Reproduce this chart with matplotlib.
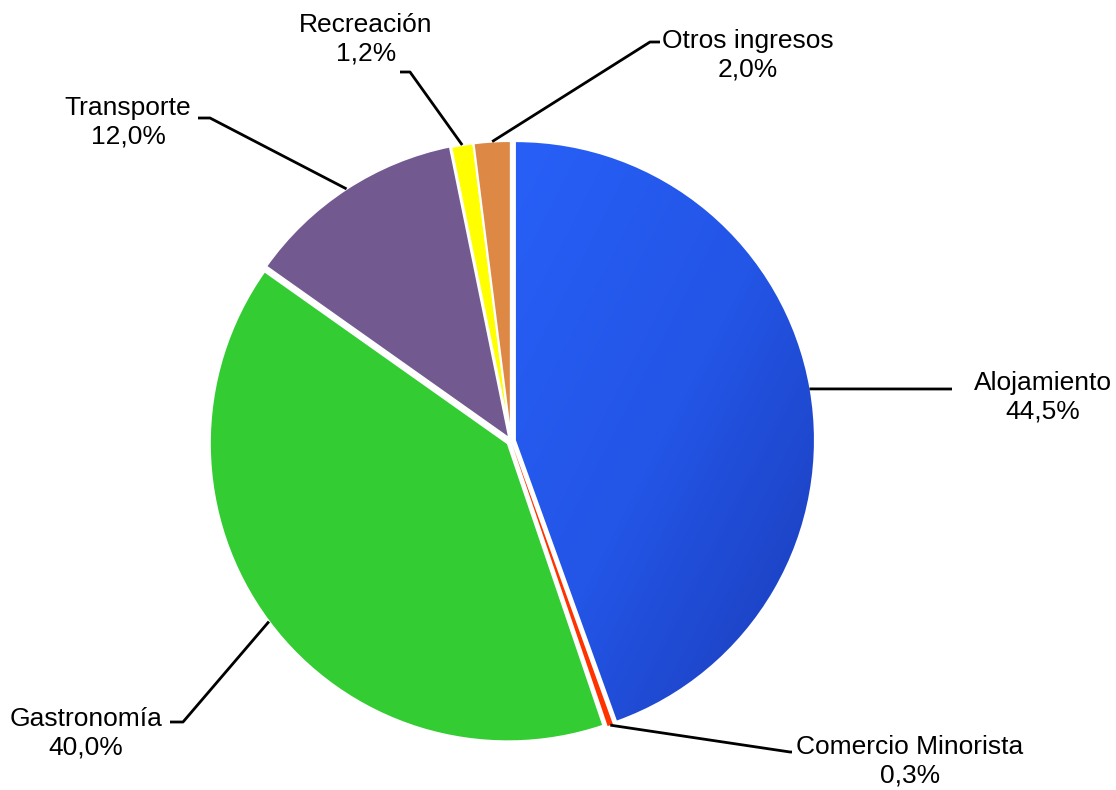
import numpy as np
import matplotlib
matplotlib.use("Agg")
import matplotlib.pyplot as plt
from matplotlib.colors import LinearSegmentedColormap

plt.rcParams['font.family'] = ['Liberation Sans', 'DejaVu Sans']

categorias = ['Alojamiento', 'Comercio Minorista', 'Gastronomía', 'Transporte', 'Recreación', 'Otros ingresos']
porcentajes = [44.5, 0.3, 40.0, 12.0, 1.2, 2.0]
colores = ['#2860F5', '#FF3300', '#33CC33', '#725A91', '#FFFF00', '#DD8844']

W, H = 1116, 790
fig = plt.figure(figsize=(W / 100, H / 100), dpi=100)
ax = fig.add_axes([0, 0, 1, 1])

cx, cy, r = 511, H - 441, 298
# explode is in data units (pixels here)
wedges, _ = ax.pie(porcentajes, colors=colores, startangle=90, counterclock=False,
                   center=(cx, cy), radius=r, explode=[5, 3, 4, 3, 2, 2],
                   wedgeprops=dict(edgecolor='white', linewidth=1.5))
wedges[1].set_linewidth(0)

# gradient on the big blue slice
w0 = wedges[0]
cmap = LinearSegmentedColormap.from_list('azul', ['#2860F8', '#2355E6', '#1A3AB4'])
gx, gy = np.meshgrid(np.linspace(0, 1, 200), np.linspace(0, 1, 200))
grad = (gx + gy) / 2
im = ax.imshow(grad, cmap=cmap, extent=(cx - 10, cx + r + 15, cy - r - 15, cy + r + 15),
               origin='upper', zorder=w0.get_zorder() + 0.1)
im.set_clip_path(w0)

# label layout: elbow point, end of horizontal, text anchor (pixel coords, y down)
layout = [
    ((950, 389), (952, 389), (1043, 397)),
    ((790, 752), (792, 752), (910, 761)),
    ((183, 722), (170, 722), (86, 733)),
    ((210, 118), (198, 118), (128, 122)),
    ((410, 72), (400, 72), (366, 39)),
    ((650, 42), (660, 42), (748, 55)),
]

for w, cat, val, (elb, end, txt) in zip(wedges, categorias, porcentajes, layout):
    ang = np.deg2rad((w.theta1 + w.theta2) / 2)
    wx, wy = w.center
    sx = wx + w.r * np.cos(ang)
    sy = wy + w.r * np.sin(ang)
    ax.plot([sx, elb[0], end[0]], [sy, H - elb[1], H - end[1]], color='black', lw=2,
            solid_capstyle='butt', zorder=5)
    ax.text(txt[0], H - txt[1], f"{cat}\n{val:.1f}%".replace('.', ','), ha='center', va='center',
            fontsize=19, linespacing=1.25)

ax.set_xlim(0, W)
ax.set_ylim(0, H)
ax.set_aspect('equal')
ax.axis('off')

fig.savefig('out.png', dpi=100)
